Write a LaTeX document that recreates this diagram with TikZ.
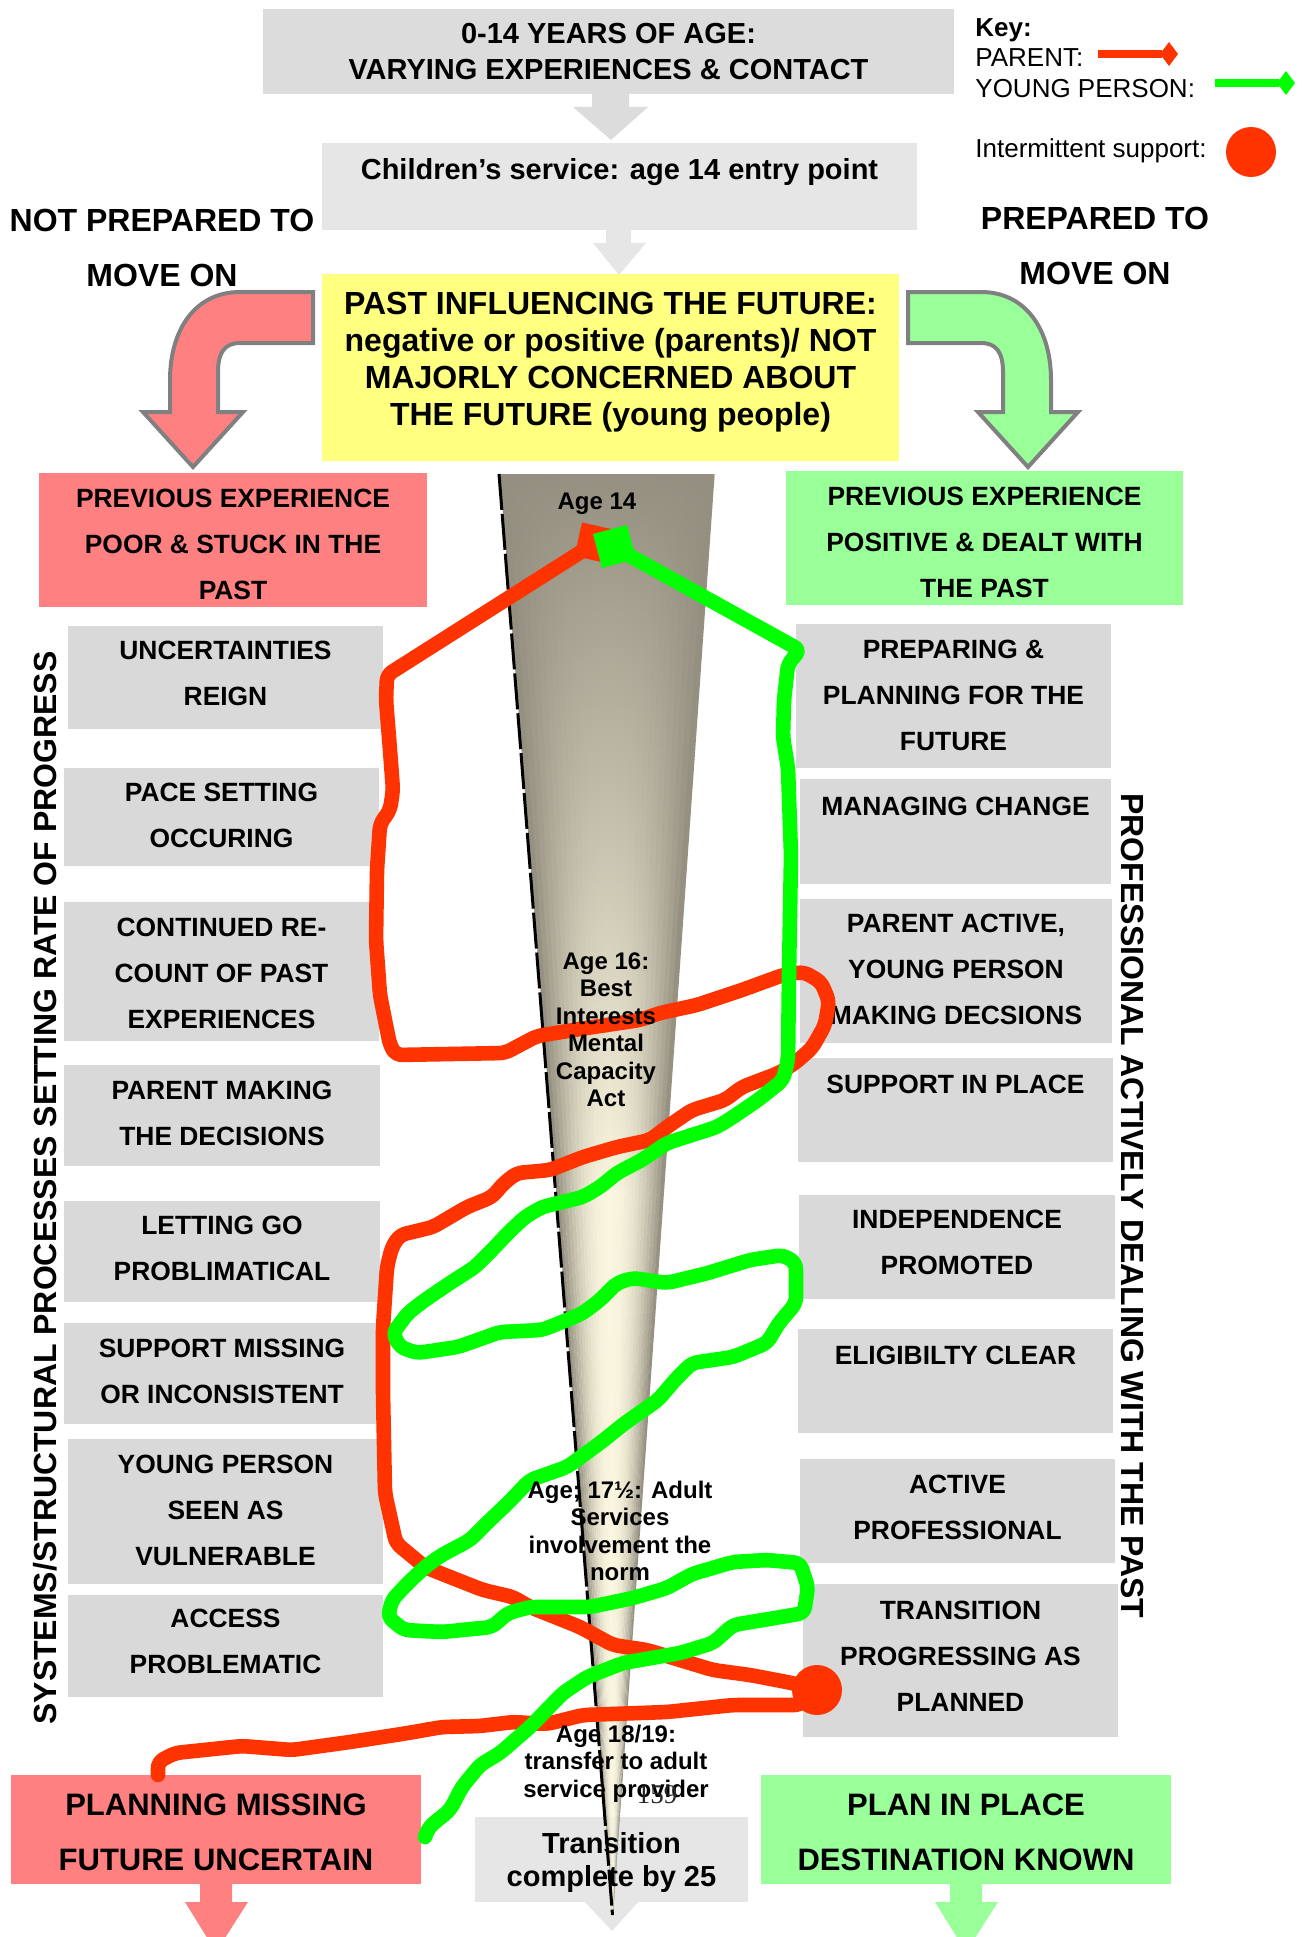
\documentclass[tikz,border=0pt]{standalone}
\usepackage{fontspec}
\setmainfont{Liberation Sans}
\newfontfamily\pagenumfont{Liberation Serif}
\usetikzlibrary{calc,fadings}

\definecolor{boxgray}{HTML}{D9D9D9}
\definecolor{topgray}{HTML}{DCDCDC}
\definecolor{entrygray}{HTML}{E6E6E6}
\definecolor{pinkfill}{HTML}{FF8080}
\definecolor{greenfill}{HTML}{99FF99}
\definecolor{yellowfill}{HTML}{FFFF80}
\definecolor{parentred}{HTML}{FF3300}
\definecolor{youngreen}{HTML}{00FF00}
\definecolor{outlinegray}{HTML}{808080}
\definecolor{conedark}{HTML}{8F8A7A}
\definecolor{conelight}{HTML}{FAF5DE}
\definecolor{conetop}{HTML}{948F80}

\tikzfading[name=conefade, top color=transparent!0, bottom color=transparent!100]

\tikzset{
  panel/.style={inner sep=0pt, outer sep=0pt, draw=none},
  colbox/.style={panel, fill=boxgray},
  topbox/.style={panel, fill=topgray},
  entrybox/.style={panel, fill=entrygray},
  yellowbox/.style={panel, fill=yellowfill},
  pinkbox/.style={panel, fill=pinkfill},
  greenbox/.style={panel, fill=greenfill},
  coltext/.style={font=\fontsize{13.2pt}{23pt}\selectfont\bfseries},
  toptext/.style={font=\fontsize{14.5pt}{18pt}\selectfont\bfseries},
  yellowtext/.style={font=\fontsize{16pt}{18.5pt}\selectfont\bfseries},
  bigtext/.style={font=\fontsize{15.5pt}{27.5pt}\selectfont\bfseries},
  transtext/.style={font=\fontsize{14.5pt}{16.5pt}\selectfont\bfseries},
  sidetext/.style={font=\fontsize{16pt}{27.5pt}\selectfont\bfseries, align=center, inner sep=0pt, anchor=north},
  vtext/.style={font=\fontsize{16pt}{18pt}\selectfont\bfseries, inner sep=0pt},
  keytext/.style={font=\fontsize{13pt}{15pt}\selectfont, inner sep=0pt, anchor=base west},
  conetext/.style={font=\fontsize{12pt}{13.75pt}\selectfont\bfseries, align=center, inner sep=0pt, anchor=north},
  blockarrow/.style={draw=none},
  bentarrow/.style={draw=outlinegray, line width=2pt, line join=miter},
  parentline/.style={draw=parentred, line width=7.3pt, line join=round, line cap=round, rounded corners=3pt},
  youngline/.style={draw=youngreen, line width=7.3pt, line join=round, line cap=round, rounded corners=3pt},
}

% a filled panel given by its corners, with its centred text whose first baseline is #7
\newcommand{\boxpanel}[9]{%
  \node[#2, anchor=north west, minimum width={(#5-#3)*0.5pt}, minimum height={(#6-#4)*0.5pt}] (#1) at (#3,#4) {};
  \node[#8, anchor=north, inner sep=0pt, outer sep=0pt, align=center] (#1t) at ({(#3+#5)/2},{#7-28}) {\rule{0pt}{14pt}#9};
}

\begin{document}
\begin{tikzpicture}[x=0.5pt, y=-0.5pt]
\useasboundingbox (0,0) rectangle (1307,1937);
\clip (0,0) rectangle (1307,1937);
\fill[white] (0,0) rectangle (1307,1937);

% ---------- top sequence ----------
\fill[topgray, blockarrow] (592,94) -- (629,94) -- (629,107) -- (648,107) -- (611,140) -- (573,107) -- (592,107) -- cycle;
\boxpanel{top}{topbox}{263}{9}{954}{94}{44}{toptext}{0-14 YEARS OF AGE:\\VARYING EXPERIENCES \& CONTACT}
\fill[entrygray, blockarrow] (606,230) -- (631,230) -- (631,243) -- (646,243) -- (619,275) -- (593,243) -- (606,243) -- cycle;
\boxpanel{entry}{entrybox}{322}{143}{917}{230}{180}{toptext}{Children’s service: age 14 entry point}
\boxpanel{past}{yellowbox}{322}{274}{899}{461}{314}{yellowtext}{PAST INFLUENCING THE FUTURE:\\negative or positive (parents)/ NOT\\MAJORLY CONCERNED ABOUT\\THE FUTURE (young people)}

% ---------- the two directions ----------
\node[sidetext] (notprep) at (162,203) {\rule{0pt}{14pt}NOT PREPARED TO\\MOVE ON};
\node[sidetext] (prep) at (1095,201) {\rule{0pt}{14pt}PREPARED TO\\MOVE ON};

\filldraw[bentarrow, fill=pinkfill] (313,292) -- (240,292) .. controls (195,292) and (170,330) .. (170,380) -- (170,412) -- (143,412) -- (193,467) -- (243,412) -- (218,412) -- (218,372) .. controls (218,352) and (225,343) .. (240,343) -- (313,343) -- cycle;
\filldraw[bentarrow, fill=greenfill] (908,292) -- (981,292) .. controls (1026,292) and (1051,330) .. (1051,380) -- (1051,412) -- (1078,412) -- (1028,467) -- (978,412) -- (1003,412) -- (1003,372) .. controls (1003,352) and (996,343) .. (981,343) -- (908,343) -- cycle;

% ---------- key ----------
\node[keytext] (keyhead) at (975,37) {\bfseries Key:};
\node[keytext] (parentkey) at (975,67) {PARENT:};
\node[keytext] (youngkey) at (975,98) {YOUNG PERSON:};
\node[keytext] (supportkey) at (975,158) {Intermittent support:};
\draw[parentred, line width=4pt] (1098,54) -- (1162,54);
\fill[parentred] (1160,54) -- (1169,42) -- (1178,54) -- (1169,66) -- cycle;
\draw[youngreen, line width=4pt] (1215,83) -- (1279,83);
\fill[youngreen] (1277,83) -- (1286,71) -- (1295,83) -- (1286,95) -- cycle;
\fill[parentred] (1251,152) circle[radius=12.5pt];

% ---------- starting points ----------
\boxpanel{poor}{pinkbox}{39}{473}{427}{607}{507}{coltext}{PREVIOUS EXPERIENCE\\POOR \& STUCK IN THE\\PAST}
\boxpanel{positive}{greenbox}{786}{471}{1183}{605}{505}{coltext}{PREVIOUS EXPERIENCE\\POSITIVE \& DEALT WITH\\THE PAST}

% ---------- left column ----------
\boxpanel{L1}{colbox}{68}{626}{383}{729}{659}{coltext}{UNCERTAINTIES\\REIGN}
\boxpanel{L2}{colbox}{64}{768}{379}{866}{801}{coltext}{PACE SETTING\\OCCURING}
\boxpanel{L3}{colbox}{64}{902}{379}{1041}{936}{coltext}{CONTINUED RE-\\COUNT OF PAST\\EXPERIENCES}
\boxpanel{L4}{colbox}{64}{1065}{380}{1166}{1099}{coltext}{PARENT MAKING\\THE DECISIONS}
\boxpanel{L5}{colbox}{64}{1201}{380}{1302}{1234}{coltext}{LETTING GO\\PROBLIMATICAL}
\boxpanel{L6}{colbox}{64}{1323}{380}{1424}{1357}{coltext}{SUPPORT MISSING\\OR INCONSISTENT}
\boxpanel{L7}{colbox}{68}{1439}{383}{1584}{1473}{coltext}{YOUNG PERSON\\SEEN AS\\VULNERABLE}
\boxpanel{L8}{colbox}{68}{1595}{383}{1697}{1627}{coltext}{ACCESS\\PROBLEMATIC}

% ---------- right column ----------
\boxpanel{R1}{colbox}{796}{624}{1111}{768}{658}{coltext}{PREPARING \&\\PLANNING FOR THE\\FUTURE}
\boxpanel{R2}{colbox}{800}{779}{1111}{884}{815}{coltext}{MANAGING CHANGE}
\boxpanel{R3}{colbox}{800}{899}{1112}{1043}{932}{coltext}{PARENT ACTIVE,\\YOUNG PERSON\\MAKING DECSIONS}
\boxpanel{R4}{colbox}{798}{1058}{1113}{1162}{1093}{coltext}{SUPPORT IN PLACE}
\boxpanel{R5}{colbox}{799}{1195}{1115}{1299}{1228}{coltext}{INDEPENDENCE\\PROMOTED}
\boxpanel{R6}{colbox}{798}{1329}{1113}{1433}{1364}{coltext}{ELIGIBILTY CLEAR}
\boxpanel{R7}{colbox}{800}{1459}{1115}{1563}{1493}{coltext}{ACTIVE\\PROFESSIONAL}
\boxpanel{R8}{colbox}{803}{1584}{1118}{1737}{1619}{coltext}{TRANSITION\\PROGRESSING AS\\PLANNED}

% ---------- side captions ----------
\node[vtext, rotate=90] (systems) at (45,1188) {SYSTEMS/STRUCTURAL PROCESSES SETTING RATE OF PROGRESS};
\node[vtext, rotate=-90] (professional) at (1132,1206) {PROFESSIONAL ACTIVELY DEALING WITH THE PAST};

% ---------- outcomes ----------
\fill[pinkfill, blockarrow] (200,1884) -- (232,1884) -- (232,1902) -- (248,1902) -- (216,1952) -- (185,1902) -- (200,1902) -- cycle;
\fill[greenfill, blockarrow] (950,1884) -- (982,1884) -- (982,1902) -- (998,1902) -- (966,1952) -- (935,1902) -- (950,1902) -- cycle;
\fill[entrygray, blockarrow] (583,1900) -- (640,1900) -- (612,1931) -- cycle;
\boxpanel{missing}{pinkbox}{11}{1775}{421}{1884}{1815}{bigtext}{PLANNING MISSING\\FUTURE UNCERTAIN}
\boxpanel{known}{greenbox}{761}{1775}{1171}{1884}{1815}{bigtext}{PLAN IN PLACE\\DESTINATION KNOWN}
\node[entrybox, anchor=north west, minimum width=136.5pt, minimum height=42.5pt] (complete) at (475,1817) {};

% ---------- age cone ----------
\foreach \i in {0,...,29}{%
  \pgfmathsetmacro\xa{500+214*\i/30}%
  \pgfmathsetmacro\xb{500+214*(\i+1)/30+0.7}%
  \pgfmathsetmacro\cmix{100*(1-pow(abs(2*(\i+0.5)/30-1),2.2))}%
  \fill[conelight!\cmix!conedark] (\xa,474) -- (\xb,474) -- (613,1915) -- cycle;
}
\begin{scope}
  \clip (500,474) -- (714,474) -- (613,1915) -- cycle;
  \fill[conetop, path fading=conefade] (495,470) rectangle (720,1190);
\end{scope}
\draw[black, line width=1.5pt, dash pattern=on 18pt off 2pt] (499,474) -- (612.5,1915);

\node[transtext, anchor=north, inner sep=0pt, align=center] (completet) at (611.5,1825) {\rule{0pt}{14pt}Transition\\complete by 25};

% ---------- parent path ----------
\draw[parentline] (595,543) -- (387,675) -- (386,700) -- (390,750) -- (393,790) -- (390,810) -- (380,824) -- (377,870) -- (376,940) -- (380,995) -- (390,1045) -- (396,1055) -- (505,1053) -- (520,1045) -- (537,1036) -- (580,1029) -- (640,1020) -- (660,1013) -- (697,1005) -- (742,990) -- (783,975) -- (804,972) -- (821,982) -- (829,1001) -- (825,1025) -- (812,1048) -- (795,1063) -- (779,1073) -- (742,1087) -- (725,1100) -- (692,1110) -- (667,1127) -- (650,1140) -- (617,1147) -- (583,1157) -- (550,1170) -- (517,1173) -- (504,1183) -- (492,1197) -- (467,1207) -- (433,1227) -- (400,1235) -- (392,1247) -- (387,1267) -- (383,1327) -- (383,1393) -- (385,1493) -- (396,1543) -- (425,1567) -- (450,1577) -- (483,1590) -- (513,1597) -- (530,1607) -- (580,1627) -- (613,1645) -- (647,1650) -- (680,1660) -- (713,1670) -- (750,1675) -- (792,1683) -- (817,1690) -- (800,1705) -- (733,1705) -- (667,1712) -- (583,1715) -- (547,1724) -- (513,1722) -- (480,1726) -- (442,1727) -- (408,1733) -- (350,1742) -- (292,1750) -- (242,1746) -- (175,1753) -- (158,1762) -- (158,1775);
\fill[parentred] (615.5,530.0) -- (608.0,563.5) -- (574.5,556.0) -- (582.0,522.5) -- cycle;
\fill[parentred] (817,1690) circle[radius=12.5pt];

% ---------- young person path ----------
\draw[youngline] (614,547) -- (800,650) -- (788,664) -- (784,700) -- (783,737) -- (788,768) -- (791,855) -- (789,974) -- (788,1060) -- (783,1080) -- (758,1100) -- (733,1117) -- (717,1127) -- (667,1143) -- (642,1160) -- (617,1173) -- (600,1187) -- (583,1197) -- (542,1207) -- (525,1217) -- (508,1233) -- (492,1250) -- (475,1267) -- (450,1283) -- (425,1300) -- (408,1313) -- (393,1333) -- (400,1347) -- (417,1353) -- (458,1347) -- (500,1332) -- (542,1330) -- (567,1320) -- (583,1313) -- (600,1300) -- (617,1283) -- (633,1278) -- (667,1283) -- (708,1273) -- (750,1260) -- (783,1255) -- (796,1263) -- (796,1303) -- (779,1323) -- (767,1343) -- (733,1357) -- (692,1363) -- (675,1380) -- (658,1400) -- (625,1423) -- (600,1443) -- (567,1467) -- (530,1480) -- (508,1503) -- (490,1520) -- (470,1540) -- (440,1556) -- (425,1567) -- (408,1583) -- (392,1600) -- (388,1617) -- (404,1630) -- (442,1632) -- (492,1627) -- (508,1613) -- (530,1607) -- (590,1607) -- (633,1598) -- (667,1588) -- (692,1574) -- (733,1562) -- (767,1560) -- (800,1563) -- (808,1587) -- (804,1613) -- (775,1618) -- (733,1625) -- (713,1643) -- (680,1653) -- (623,1663) -- (587,1677) -- (563,1693) -- (530,1727) -- (500,1753) -- (480,1765) -- (462,1787) -- (450,1810) -- (429,1827) -- (425,1837);
\fill[youngreen] (593.0,534.0) -- (627.0,525.0) -- (636.0,559.0) -- (602.0,568.0) -- cycle;

% ---------- ages along the cone ----------
\node[conetext] (age14) at (597,481) {\rule{0pt}{14pt}Age 14};
\node[conetext] (age16) at (606,941) {\rule{0pt}{14pt}Age 16:\\Best\\Interests\\Mental\\Capacity\\Act};
\node[conetext] (age17) at (620,1470) {\rule{0pt}{14pt}Age; 17½: Adult\\Services\\involvement the\\norm};
\node[conetext] (age18) at (616,1714) {\rule{0pt}{14pt}Age 18/19:\\transfer to adult\\service provider};
\node[font=\pagenumfont\fontsize{13.5pt}{15pt}\selectfont, anchor=base, inner sep=0pt, text=black!85] (pagenum) at (657,1803) {159};
\end{tikzpicture}
\end{document}
